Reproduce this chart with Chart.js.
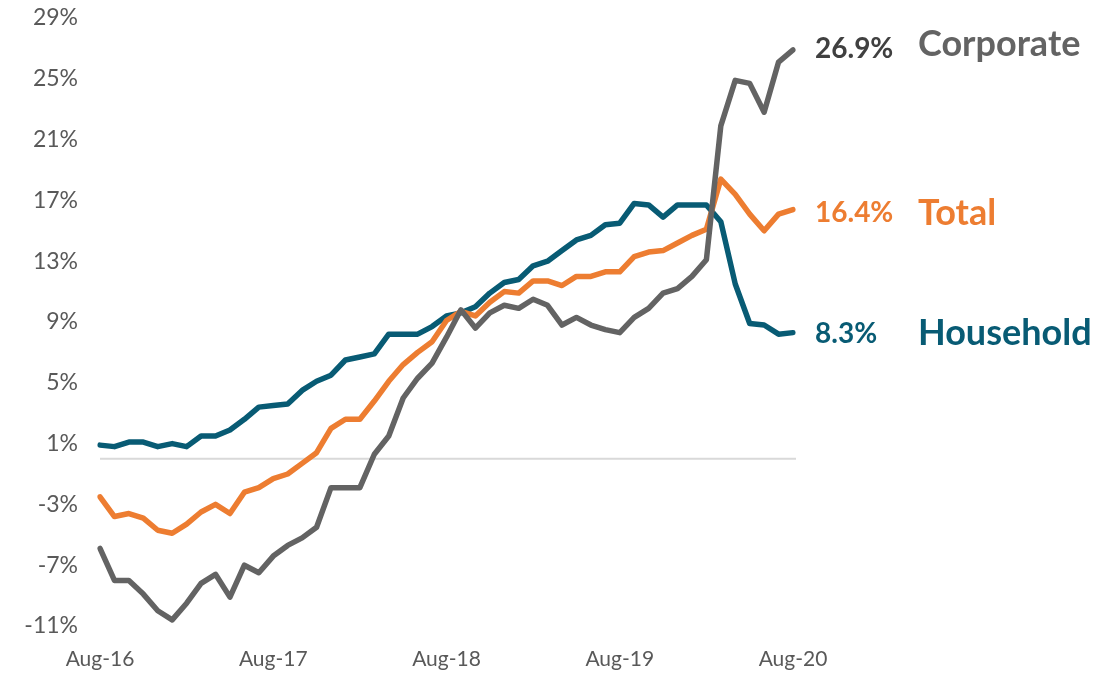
<!DOCTYPE html>
<html>
<head>
<meta charset="utf-8">
<script src="https://cdn.jsdelivr.net/npm/chart.js@4.4.1/dist/chart.umd.min.js"></script>
<style>
  body { margin: 0; background: #fff; }
  #wrap { width: 1117px; height: 675px; }
</style>
</head>
<body>
<div id="wrap"><canvas id="grafico" width="1117" height="675"></canvas></div>
<script>
// meses Aug-16 .. Aug-20
const meses = [
  "Aug-16","Sep-16","Oct-16","Nov-16","Dec-16","Jan-17","Feb-17","Mar-17","Apr-17","May-17","Jun-17","Jul-17",
  "Aug-17","Sep-17","Oct-17","Nov-17","Dec-17","Jan-18","Feb-18","Mar-18","Apr-18","May-18","Jun-18","Jul-18",
  "Aug-18","Sep-18","Oct-18","Nov-18","Dec-18","Jan-19","Feb-19","Mar-19","Apr-19","May-19","Jun-19","Jul-19",
  "Aug-19","Sep-19","Oct-19","Nov-19","Dec-19","Jan-20","Feb-20","Mar-20","Apr-20","May-20","Jun-20","Jul-20",
  "Aug-20"
]

const corporate = [
  -5.9, -8.0, -8.0, -8.9, -10.0, -10.6, -9.5, -8.2, -7.6, -9.1, -7.0, -7.5,
  -6.4, -5.7, -5.2, -4.5, -1.9, -1.9, -1.9, 0.3, 1.5, 4.0, 5.3, 6.3,
  8.0, 9.8, 8.6, 9.6, 10.1, 9.9, 10.5, 10.1, 8.8, 9.3, 8.8, 8.5,
  8.3, 9.3, 9.9, 10.9, 11.2, 12.0, 13.1, 21.9, 24.9, 24.7, 22.8, 26.1,
  26.9
]

const total = [
  -2.5, -3.8, -3.6, -3.9, -4.7, -4.9, -4.3, -3.5, -3.0, -3.6, -2.2, -1.9,
  -1.3, -1.0, -0.3, 0.4, 2.0, 2.6, 2.6, 3.8, 5.1, 6.2, 7.0, 7.7,
  9.1, 9.7, 9.4, 10.3, 11.0, 10.9, 11.7, 11.7, 11.4, 12.0, 12.0, 12.3,
  12.3, 13.3, 13.6, 13.7, 14.2, 14.7, 15.1, 18.4, 17.4, 16.1, 15.0, 16.1,
  16.4
]

const household = [
  0.9, 0.8, 1.1, 1.1, 0.8, 1.0, 0.8, 1.5, 1.5, 1.9, 2.6, 3.4,
  3.5, 3.6, 4.5, 5.1, 5.5, 6.5, 6.7, 6.9, 8.2, 8.2, 8.2, 8.7,
  9.4, 9.6, 10.0, 10.9, 11.6, 11.8, 12.7, 13.0, 13.7, 14.4, 14.7, 15.4,
  15.5, 16.8, 16.7, 15.9, 16.7, 16.7, 16.7, 15.6, 11.5, 8.9, 8.8, 8.2,
  8.3
]

const yTicks = [-11, -7, -3, 1, 5, 9, 13, 17, 21, 25, 29]

const series = [
  { nombre: "Corporate", data: corporate, color: "#636363", colorValor: "#404040" },
  { nombre: "Total", data: total, color: "#ED7D31", colorValor: "#ED7D31" },
  { nombre: "Household", data: household, color: "#085B74", colorValor: "#085B74" }
]

// ajuste vertical de los textos de la derecha (px)
const ajusteValor = { Corporate: -1, Total: 3, Household: 1 }
const ajusteNombre = { Corporate: -6, Total: 4, Household: 1 }

const tickColor = "#595959"

// linea en 0%
const lineaCero = {
  id: "lineaCero",
  beforeDatasetsDraw(chart) {
    const { ctx, chartArea, scales } = chart
    const y = scales.y.getPixelForValue(0)
    ctx.save()
    ctx.strokeStyle = "#d9d9d9"
    ctx.lineWidth = 2
    ctx.beginPath()
    ctx.moveTo(chartArea.left, y)
    ctx.lineTo(chartArea.right + 3, y)
    ctx.stroke()
    ctx.restore()
  }
}

// etiquetas al final de cada serie
const etiquetas = {
  id: "etiquetas",
  afterDatasetsDraw(chart) {
    const { ctx, chartArea, scales } = chart
    ctx.save()
    ctx.textAlign = "left"
    ctx.textBaseline = "middle"
    series.forEach((s) => {
      const ultimo = s.data[s.data.length - 1]
      const y = scales.y.getPixelForValue(ultimo)
      ctx.font = "bold 28px Lato"
      ctx.fillStyle = s.colorValor
      ctx.fillText(ultimo.toFixed(1) + "%", chartArea.right + 22, y + ajusteValor[s.nombre])
      ctx.font = "bold 36px Lato"
      ctx.fillStyle = s.color
      ctx.fillText(s.nombre, chartArea.right + 125, y + ajusteNombre[s.nombre])
    })
    ctx.restore()
  }
}

new Chart(document.getElementById("grafico"), {
  type: "line",
  data: {
    labels: meses,
    datasets: series.map((s) => ({
      label: s.nombre,
      data: s.data,
      borderColor: s.color,
      borderWidth: 5.5,
      pointRadius: 0,
      tension: 0,
      borderJoinStyle: "round",
      borderCapStyle: "round"
    }))
  },
  options: {
    responsive: false,
    animation: false,
    layout: { padding: { left: 0, right: 324, top: 18, bottom: 0 } },
    plugins: { legend: { display: false }, tooltip: { enabled: false } },
    scales: {
      x: {
        afterFit: (scale) => { scale.height = 49 },
        grid: { display: false, drawTicks: false },
        border: { display: false },
        ticks: {
          autoSkip: false,
          maxRotation: 0,
          padding: 21,
          font: { family: "Lato", size: 21 },
          color: tickColor,
          callback: (val, idx) => (idx % 12 === 0 ? meses[idx] : null)
        }
      },
      y: {
        min: -11,
        max: 29,
        afterFit: (scale) => {
          scale.width = 100
          scale.paddingTop = 0
          scale.paddingBottom = 0
        },
        afterBuildTicks: (scale) => { scale.ticks = yTicks.map((v) => ({ value: v })) },
        grid: { display: false, drawTicks: false },
        border: { display: false },
        ticks: {
          padding: 22,
          font: { family: "Lato", size: 23 },
          color: tickColor,
          callback: (v) => v + "%"
        }
      }
    }
  },
  plugins: [lineaCero, etiquetas]
})
</script>
</body>
</html>
